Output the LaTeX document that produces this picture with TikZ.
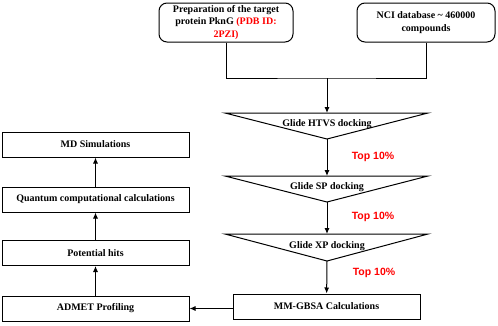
\documentclass[tikz,border=0pt]{standalone}
\usepackage{fontspec}
\setmainfont{Liberation Serif}
\newfontfamily\labelfont{Liberation Sans}
\usetikzlibrary{arrows.meta,positioning}

\tikzset{
  roundbox/.style={draw,rounded corners=8pt,line width=1pt,align=center,
    font=\bfseries\fontsize{10}{12.5}\selectfont,inner sep=0pt},
  stagebox/.style={draw,line width=1pt,minimum width=187pt,minimum height=25pt,
    font=\bfseries\fontsize{10}{12}\selectfont,inner sep=0pt},
  dockline/.style={line width=1pt},
  dockname/.style={font=\bfseries\fontsize{10}{12}\selectfont,inner sep=0pt},
  toplabel/.style={font=\labelfont\bfseries\fontsize{10.5}{12}\selectfont,text=red,inner sep=0pt},
}

\begin{document}
\begin{tikzpicture}[x=1pt,y=-1pt,>={Latex[length=6pt,width=5pt]}]
  \useasboundingbox (0,0) rectangle (498,325);

  % inputs
  \node[roundbox,minimum width=134pt,minimum height=39pt] (prep) at (226,22.5)
    {Preparation of the target\\protein PknG \textcolor{red}{(PDB ID:}\\\textcolor{red}{2PZI)}};
  \node[roundbox,minimum width=138pt,minimum height=39pt] (nci) at (426,22.5)
    {NCI database \textasciitilde\ 460000\\compounds};
  \coordinate (join) at (327,78);
  \draw[dockline] (prep.south) |- (join) -| (nci.south);

  % docking funnel
  \path (225,113) coordinate (htvsL) (428,113) coordinate (htvsR)
        (327,113) coordinate (htvsT) (327,139) coordinate (htvsA);
  \path (225,176) coordinate (spL) (428,176) coordinate (spR)
        (327,176) coordinate (spT) (327,202) coordinate (spA);
  \path (225,234) coordinate (xpL) (428,234) coordinate (xpR)
        (327,234) coordinate (xpT) (327,261) coordinate (xpA);
  \draw[dockline] (htvsL) -- (htvsR) -- (htvsA) -- cycle;
  \draw[dockline] (spL) -- (spR) -- (spA) -- cycle;
  \draw[dockline] (xpL) -- (xpR) -- (xpA) -- cycle;
  \node[dockname] (htvs) at (327,124) {Glide HTVS docking};
  \node[dockname] (sp) at (327,187) {Glide SP docking};
  \node[dockname] (xp) at (327,246) {Glide XP docking};

  \node[stagebox] (mmgbsa) at (326.5,306.5) {MM-GBSA Calculations};

  \draw[dockline,->] (join) -- (htvsT);
  \draw[dockline,->] (htvsA) -- (spT);
  \draw[dockline,->] (spA) -- (xpT);
  \draw[dockline,->] (xpA) -- (mmgbsa);

  \node[toplabel] (cut1) at (373,157) {Top 10\%};
  \node[toplabel] (cut2) at (373,217) {Top 10\%};
  \node[toplabel] (cut3) at (374,273) {Top 10\%};

  % follow-up
  \node[stagebox] (admet) at (95.5,308.5) {ADMET Profiling};
  \node[stagebox] (hits) at (95.5,253) {Potential hits};
  \node[stagebox] (quantum) at (95.5,199.5) {Quantum computational calculations};
  \node[stagebox] (md) at (95.5,144.5) {MD Simulations};

  \draw[dockline,->] (mmgbsa.west |- admet) -- (admet);
  \draw[dockline,->] (admet) -- (hits);
  \draw[dockline,->] (hits) -- (quantum);
  \draw[dockline,->] (quantum) -- (md);
\end{tikzpicture}
\end{document}
